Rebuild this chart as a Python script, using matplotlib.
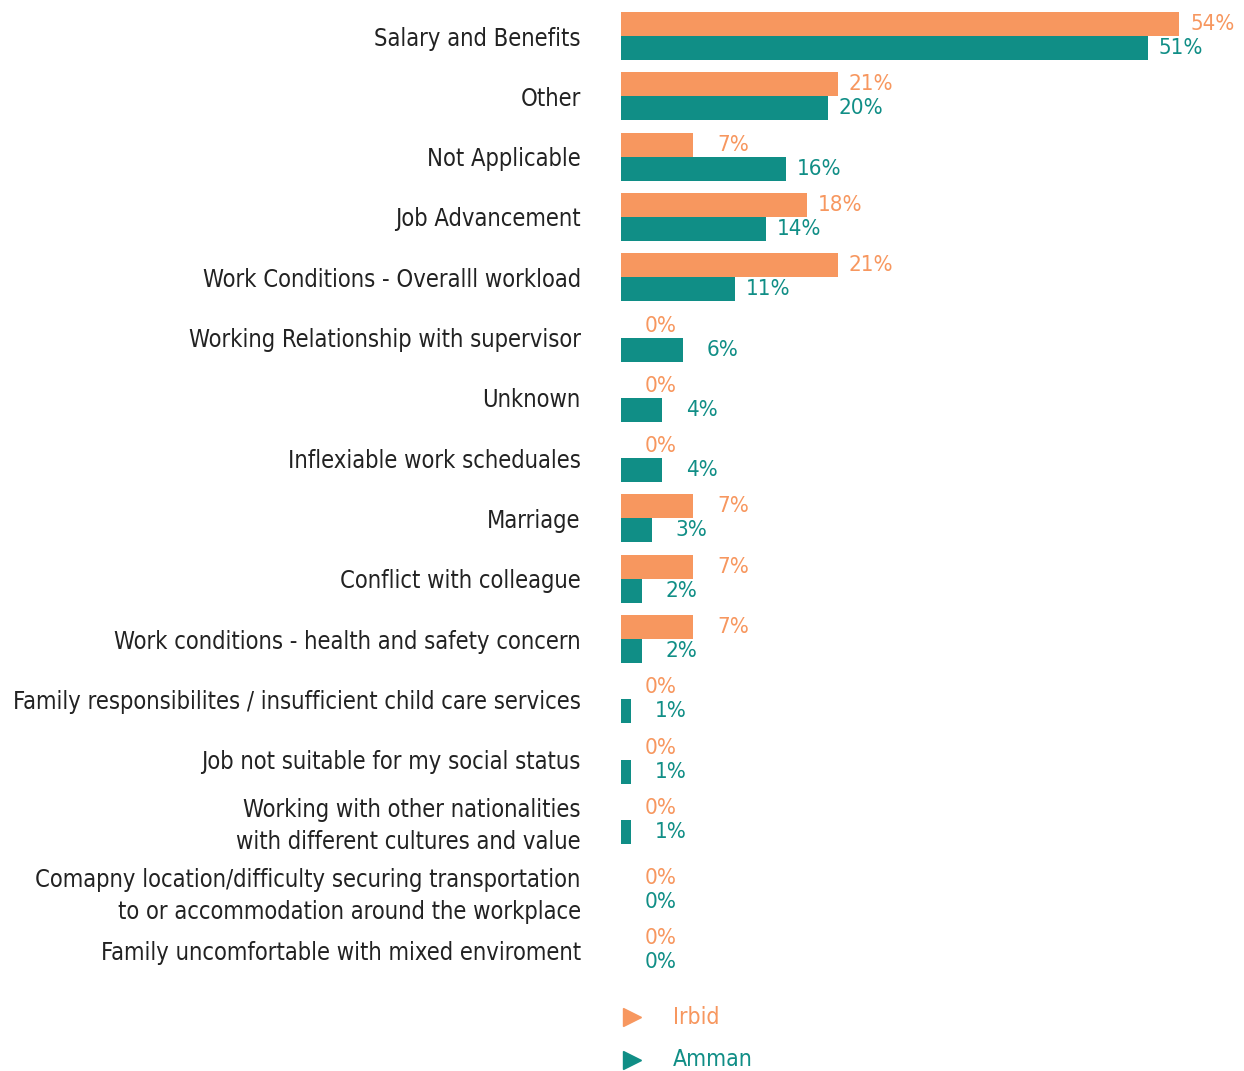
import matplotlib.pyplot as plt
from matplotlib.lines import Line2D

categories = [
    "Salary and Benefits",
    "Other",
    "Not Applicable",
    "Job Advancement",
    "Work Conditions - Overalll workload",
    "Working Relationship with supervisor",
    "Unknown",
    "Inflexiable work scheduales",
    "Marriage",
    "Conflict with colleague",
    "Work conditions - health and safety concern",
    "Family responsibilites / insufficient child care services",
    "Job not suitable for my social status",
    "Working with other nationalities\nwith different cultures and value",
    "Comapny location/difficulty securing transportation\nto or accommodation around the workplace",
    "Family uncomfortable with mixed enviroment",
]
irbid = [54, 21, 7, 18, 21, 0, 0, 0, 7, 7, 7, 0, 0, 0, 0, 0]
amman = [51, 20, 16, 14, 11, 6, 4, 4, 3, 2, 2, 1, 1, 1, 0, 0]

ORANGE = "#F7975F"
TEAL = "#108E86"
TEXT = "#222222"

plt.rcParams["font.family"] = ["DejaVu Sans"]
plt.rcParams["font.stretch"] = "condensed"

W, H = 1244, 1071
ROW = 60.3  # px between rows
fig = plt.figure(figsize=(W / 100, H / 100), dpi=100)

n = len(categories)
# the last two rows sit a little lower (extra gap before the long two-line label)
y = [i + (0.16 if i >= n - 2 else 0) for i in range(n)]
y_top, y_bot = -0.5, y[-1] + 0.5
top_px = 36 - 0.5 * ROW
bot_px = top_px + (y_bot - y_top) * ROW
ax = fig.add_axes([621 / W, 1 - bot_px / H, 1 - 621 / W, (bot_px - top_px) / H])

h = 24 / ROW
ax.barh([v - h / 2 for v in y], irbid, height=h, color=ORANGE)
ax.barh([v + h / 2 for v in y], amman, height=h, color=TEAL)

# value labels: right edge sits a fixed distance past the bar end
for i in range(n):
    ax.annotate(f"{irbid[i]}%", (irbid[i], y[i] - h / 2), xytext=(40, 0), textcoords="offset points",
                va="center", ha="right", color=ORANGE, fontsize=16)
    ax.annotate(f"{amman[i]}%", (amman[i], y[i] + h / 2), xytext=(40, 0), textcoords="offset points",
                va="center", ha="right", color=TEAL, fontsize=16)

ax.set_xlim(0, 623 / 10.33)
ax.set_ylim(y_bot, y_top)
ax.set_yticks(y)
ax.set_yticklabels(categories, fontsize=17, color=TEXT, ha="right", linespacing=1.38)
ax.tick_params(axis="y", length=0, pad=29)
ax.set_xticks([])
for s in ax.spines.values():
    s.set_visible(False)

# legend
for name, col, ypx in [("Irbid", ORANGE, 1017), ("Amman", TEAL, 1060)]:
    fig.add_artist(Line2D([632 / W], [1 - ypx / H], marker=">", markersize=13, color=col,
                          linestyle="none", transform=fig.transFigure))
    fig.text(673 / W, 1 - ypx / H, name, color=col, fontsize=16.5, va="center", ha="left")

fig.savefig("out.png", dpi=100)
